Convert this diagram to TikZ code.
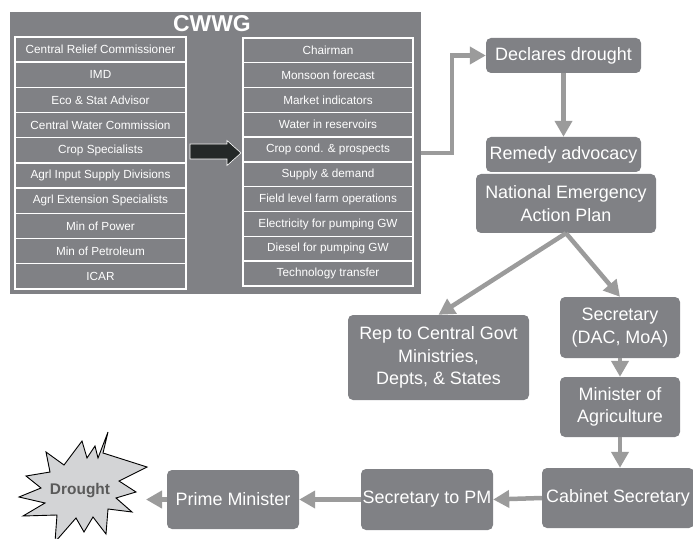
\documentclass[tikz,border=0pt]{standalone}
\usepackage{fontspec}
\setmainfont{Liberation Sans}
\usetikzlibrary{arrows.meta}
\definecolor{boxgray}{RGB}{128,129,133}
\definecolor{linkgray}{RGB}{155,155,155}
\definecolor{burst}{RGB}{211,212,214}
\definecolor{darkarrow}{RGB}{36,40,40}
\definecolor{bursttext}{RGB}{90,90,90}

\begin{document}
\begin{tikzpicture}[x=1bp,y=-1bp,
  stepbox/.style={fill=boxgray, rounded corners=5bp, text=white,
    font=\fontsize{18}{22.5}\selectfont, align=center, inner sep=0pt},
  cell/.style={fill=boxgray, draw=white, line width=1.4bp, text=white,
    font=\fontsize{11.8}{14}\selectfont, inner sep=0pt},
  link/.style={draw=linkgray, line width=4.5bp,
    -{Triangle[length=16bp,width=17bp]}},
]
\useasboundingbox (0,0) rectangle (693,539);

% working group panel
\node[fill=boxgray, minimum width=411bp, minimum height=282bp, inner sep=0pt] (cwwg) at (215.5,153) {};
\node[text=white, font=\bfseries\fontsize{23}{23}\selectfont] (title) at (212,24) {CWWG};

% members
\foreach \t [count=\i] in {Central Relief Commissioner, IMD, Eco \& Stat Advisor,
    Central Water Commission, Crop Specialists, Agrl Input Supply Divisions,
    Agrl Extension Specialists, Min of Power, Min of Petroleum, ICAR}
  \node[cell, minimum width=171bp, minimum height=25.2bp] (l\i) at (100.5,{37+25.2*(\i-0.5)}) {\t};

% indicators
\foreach \t [count=\i] in {Chairman, Monsoon forecast, Market indicators,
    Water in reservoirs, Crop cond. \& prospects, Supply \& demand,
    Field level farm operations, Electricity for pumping GW,
    Diesel for pumping GW, Technology transfer}
  \node[cell, minimum width=170bp, minimum height=24.8bp] (r\i) at (328,{38+24.8*(\i-0.5)}) {\t};

% block arrow between the two columns
\draw[fill=darkarrow, draw=white, line width=0.6bp]
  (190,144) -- (227,144) -- (227,140.5) -- (241,153) -- (227,165.5)
  -- (227,159) -- (190,159) -- cycle;

% decision chain
\node[stepbox, minimum width=155bp, minimum height=35bp] (declares) at (563.5,55.5) {Declares drought};
\node[stepbox, minimum width=155bp, minimum height=35bp] (remedy) at (563.5,154.5) {Remedy advocacy};
\node[stepbox, minimum width=180bp, minimum height=59bp] (neap) at (566,203.5) {National Emergency\\Action Plan};
\node[stepbox, minimum width=181bp, minimum height=85bp] (rep) at (438.5,357.5) {Rep to Central Govt\\Ministries,\\Depts, \& States};
\node[stepbox, minimum width=120bp, minimum height=61bp] (secy) at (620,327.5) {Secretary\\(DAC, MoA)};
\node[stepbox, minimum width=120bp, minimum height=60bp] (minag) at (620,407) {Minister of\\Agriculture};
\node[stepbox, minimum width=152bp, minimum height=60bp] (cabsec) at (618,498) {Cabinet Secretary};
\node[stepbox, minimum width=132bp, minimum height=61bp] (secpm) at (427,499.5) {Secretary to PM};
\node[stepbox, minimum width=132bp, minimum height=59bp] (pm) at (233,499.5) {Prime Minister};

% drought burst
\draw[fill=burst, draw=black, line width=0.9bp]
  (108,432) -- (103,453) -- (147,467) -- (119,481) -- (136,492) -- (116,498)
  -- (132,512) -- (108,509) -- (106,534) -- (93,517) -- (84,532) -- (76,518)
  -- (55,542) -- (57,515) -- (23,516) -- (45,503) -- (19,497) -- (41,488)
  -- (26,476) -- (50,472) -- (46,452) -- (64,465) -- (82,441) -- (87,458)
  -- (95,446) -- (98,458) -- cycle;
\node[text=bursttext, font=\bfseries\fontsize{15.5}{16}\selectfont] (drought) at (80,491) {Drought};
\coordinate (dtip) at (146,499.5);

% connectors
\draw[link] (cwwg.east) -- ++(31,0) |- (declares.west);
\draw[link] (declares.south) -- (remedy.north);
\draw[link] (neap.south) -- (rep.north);
\draw[link] (neap.south) -- (secy.north);
\draw[link] (secy.south) -- (minag.north);
\draw[link] (minag.south) -- (minag.south |- cabsec.north);
\draw[link] (cabsec.west) -- (secpm.east);
\draw[link] (secpm.west) -- (pm.east);
\draw[link] (pm.west) -- (dtip);
\end{tikzpicture}
\end{document}
